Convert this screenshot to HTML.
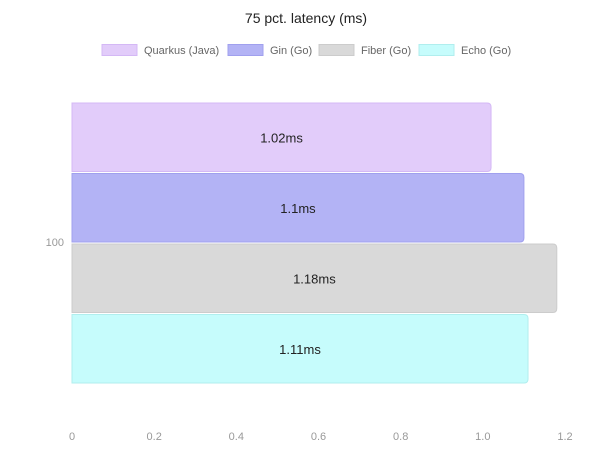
<!DOCTYPE html>
<html><head><meta charset="utf-8"><style>
body{margin:0;background:#fff;width:612px;height:450px;overflow:hidden;font-family:"Liberation Sans",sans-serif}
</style></head><body>
<svg id="chart" width="612" height="450" xmlns="http://www.w3.org/2000/svg">
<text x="306" y="23" text-anchor="middle" font-size="14" fill="#222" font-family="Liberation Sans, sans-serif">75 pct. latency (ms)</text>
<g id="legend"></g>
<g id="axes"></g>
<g id="bars"></g>
</svg>
<script>
const series = ["Quarkus (Java)", "Gin (Go)", "Fiber (Go)", "Echo (Go)"];
const values = [1.02, 1.1, 1.18, 1.11];
const valueLabels = ["1.02ms", "1.1ms", "1.18ms", "1.11ms"];
const xTicks = [0, 0.2, 0.4, 0.6, 0.8, 1.0, 1.2];
const xTickLabels = ["0", "0.2", "0.4", "0.6", "0.8", "1.0", "1.2"];
const category = "100";

const fills = ["#e2ccfa", "#b3b3f5", "#d9d9d9", "#c6fcfc"];
const strokes = ["#d4b8f5", "#a0a0ee", "#cccccc", "#b0eeee"];
const NS = "http://www.w3.org/2000/svg";
const x0 = 72, x1 = 565, yTop = 102, yBot = 384;
const xScale = v => x0 + (v / 1.2) * (x1 - x0);
const bandH = (yBot - yTop) / series.length;
function mk(tag, attrs, parent) { const e = document.createElementNS(NS, tag); for (const k in attrs) e.setAttribute(k, attrs[k]); parent.appendChild(e); return e; }

const axes = document.getElementById("axes");
xTicks.forEach((t, i) => {
  const tx = mk("text", {x: xScale(t), y: 440, "text-anchor": "middle", "font-size": 11, fill: "#999"}, axes);
  
  
  tx.textContent = xTickLabels[i];
});
const cl = mk("text", {x: 64, y: 246, "text-anchor": "end", "font-size": 11, fill: "#999"}, axes);


cl.textContent = category;

const bars = document.getElementById("bars");
values.forEach((v, i) => {
  const y = yTop + i * bandH + 1;
  const w = xScale(v) - x0;
  const r = mk("path", {d: `M${x0},${y} H${x0 + w - 4} Q${x0 + w},${y} ${x0 + w},${y + 4} V${y + bandH - 6} Q${x0 + w},${y + bandH - 2} ${x0 + w - 4},${y + bandH - 2} H${x0} Z`, fill: fills[i], stroke: strokes[i], "stroke-width": 1}, bars);
  
  
  const t = mk("text", {x: x0 + w / 2, y: y + bandH / 2 + 4, "text-anchor": "middle", "font-size": 13, fill: "#222"}, bars);
  
  
  t.textContent = valueLabels[i];
});

const legend = document.getElementById("legend");
const lx = [102, 228, 319, 419];
series.forEach((s, i) => {
  const g = mk("g", {}, legend);
  
  
  mk("rect", {x: lx[i], y: 44.5, width: 35, height: 11, fill: fills[i], stroke: strokes[i]}, g);
  const t = mk("text", {x: lx[i] + 42, y: 54, "font-size": 11, fill: "#666"}, g);
  t.textContent = s;
});
</script>
</body></html>
